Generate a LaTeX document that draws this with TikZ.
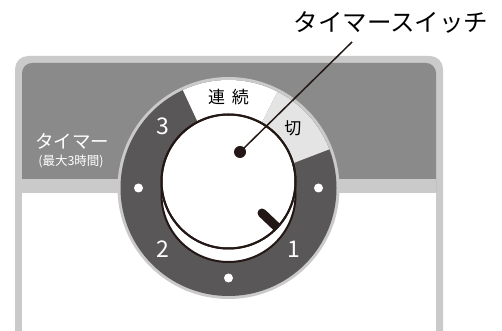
\documentclass[tikz,border=0pt]{standalone}
\usepackage{fontspec}
\usetikzlibrary{calc}
\newfontfamily\jp{Noto Sans CJK JP}
\definecolor{panelborder}{HTML}{C9CAC9}
\definecolor{paneldark}{HTML}{8A8A8A}
\definecolor{ringdark}{HTML}{595757}
\definecolor{seglight}{HTML}{E4E4E4}
\definecolor{ink}{HTML}{231815}
\tikzset{
  txt/.style={inner sep=0pt, font=\jp},
  numtxt/.style={txt, text=white, font=\jp\fontsize{23}{23}\selectfont},
  whitedot/.style={circle, fill=white, inner sep=0pt, minimum size=9pt},
  knob/.style={fill=white, draw=ink, line width=2pt},
}
\begin{document}
\begin{tikzpicture}[x=1pt,y=1pt]
\useasboundingbox (0,0) rectangle (502,331);
\clip (0,0) rectangle (502,331);
% panel
\fill[panelborder, rounded corners=13pt] (15,-30) rectangle (443,275);
\fill[paneldark, rounded corners=10pt] (22,130) rectangle (436,268);
\fill[panelborder] (22,138) rectangle (436,152);
\fill[white] (22,-30) rectangle (436,138);
% dial ring
\coordinate (c) at (228.5,143);
\fill[panelborder] (c) circle (111);
\fill[ringdark] (c) circle (108);
\fill[white] (c) -- ++(63:108) arc (63:115:108) -- cycle;
\fill[seglight] (c) -- ++(21:108) arc (21:63:108) -- cycle;
% dots
\node[whitedot] (d0) at ($(c)+(0:90)$) {};
\node[whitedot] (d180) at ($(c)+(180:90)$) {};
\node[whitedot] (d270) at ($(c)+(270:90)$) {};
% numbers
\node[numtxt] (n3) at ($(c)+(137:90)$) {3};
\node[numtxt] (n2) at ($(c)+(223:90)$) {2};
\node[numtxt] (n1) at ($(c)+(317:90)$) {1};
\node[txt, font=\jp\fontsize{17}{17}\selectfont] (cont) at ($(c)+(90:91)$) {連\hspace{7pt}続};
\node[txt, font=\jp\fontsize{17}{17}\selectfont] (off) at ($(c)+(43:88)$) {切};
% knob
\coordinate (kb) at (228.5,136);
\coordinate (kt) at (228.5,149.5);
\filldraw[knob] (kb) circle (67);
\filldraw[knob] (kt) circle (67);
\begin{scope}
  \clip (kt) circle (67);
  \draw[ink, line width=9pt, line cap=round] (262,118) -- (282,99);
\end{scope}
\draw[ink, line width=2pt] (kt) circle (67);
% center dot and leader
\node[circle, fill=ink, inner sep=0pt, minimum size=12pt] (dot) at (240,179) {};
\coordinate (lt) at (352,289);
\draw[ink, line width=1.5pt] (dot.center) -- (lt);
\node[txt, font=\jp\fontsize{24.5}{24.5}\selectfont] (title) at (391,309) {タイマースイッチ};
% left label
\node[txt, text=white, font=\jp\fontsize{18.5}{18.5}\selectfont] (timer) at (72,190) {タイマー};
\node[txt, text=white, font=\jp\fontsize{12.5}{12.5}\selectfont] (maxh) at (71,169.5) {(最大3時間)};
\end{tikzpicture}
\end{document}
